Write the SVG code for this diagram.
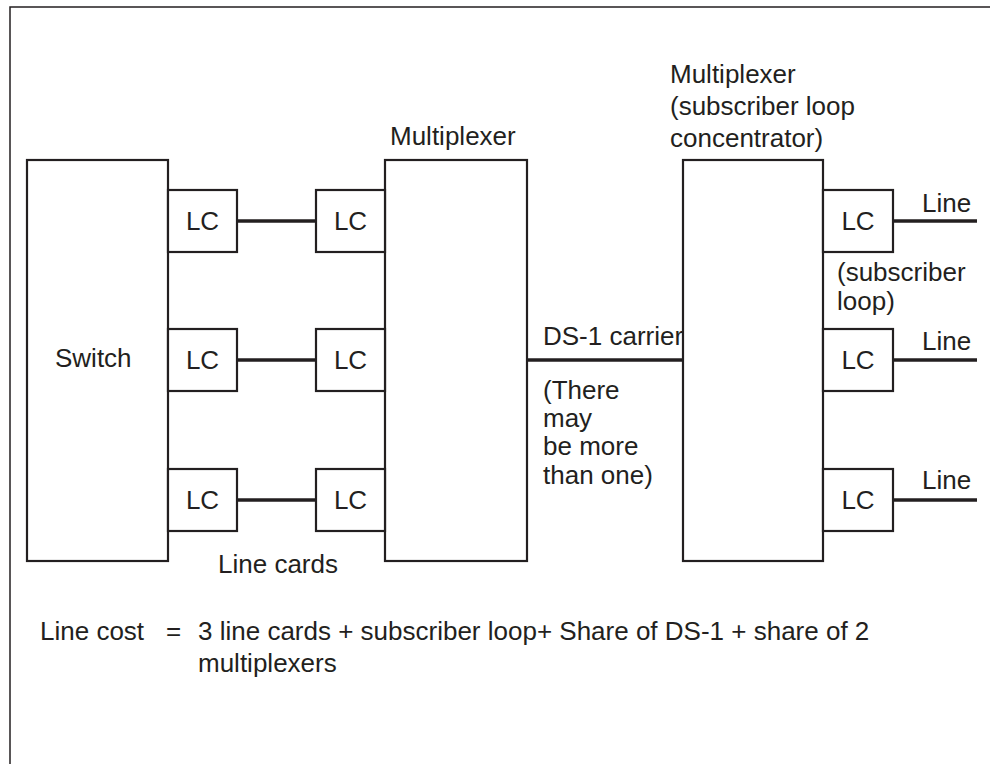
<svg xmlns="http://www.w3.org/2000/svg" width="990" height="764" viewBox="0 0 990 764">
<style>
.box{fill:#fff;stroke:#231f20;stroke-width:2.2}
.con{stroke:#231f20;stroke-width:3.5;fill:none}
.frame{stroke:#231f20;stroke-width:1.5;fill:none}
text{font-family:"Liberation Sans",Arial,sans-serif;font-size:26px;fill:#231f20}
.c{text-anchor:middle}
</style>
<rect width="990" height="764" fill="#fff"/>
<path class="frame" d="M10,764 V7 H990"/>
<g id="connectors">
<line class="con" x1="237" y1="221" x2="316" y2="221"/>
<line class="con" x1="237" y1="360" x2="316" y2="360"/>
<line class="con" x1="237" y1="500" x2="316" y2="500"/>
<line class="con" x1="527" y1="360" x2="683" y2="360"/>
<line class="con" x1="893" y1="221" x2="977" y2="221"/>
<line class="con" x1="893" y1="360" x2="977" y2="360"/>
<line class="con" x1="893" y1="500" x2="977" y2="500"/>
</g>
<g id="switch"><rect class="box" x="27" y="160" width="141" height="401"/><text x="55" y="367">Switch</text></g>
<g id="lc-s1"><rect class="box" x="168" y="190" width="69" height="62"/><text class="c" x="202.5" y="230">LC</text></g>
<g id="lc-s2"><rect class="box" x="168" y="329" width="69" height="62"/><text class="c" x="202.5" y="369">LC</text></g>
<g id="lc-s3"><rect class="box" x="168" y="469" width="69" height="62"/><text class="c" x="202.5" y="509">LC</text></g>
<g id="mux1"><rect class="box" x="385" y="160" width="142" height="401"/><text x="390" y="145">Multiplexer</text></g>
<g id="lc-m1"><rect class="box" x="316" y="190" width="69" height="62"/><text class="c" x="350.5" y="230">LC</text></g>
<g id="lc-m2"><rect class="box" x="316" y="329" width="69" height="62"/><text class="c" x="350.5" y="369">LC</text></g>
<g id="lc-m3"><rect class="box" x="316" y="469" width="69" height="62"/><text class="c" x="350.5" y="509">LC</text></g>
<g id="mux2"><rect class="box" x="683" y="160" width="140" height="401"/>
<text x="670" y="83">Multiplexer</text><text x="670" y="115">(subscriber loop</text><text x="670" y="147">concentrator)</text></g>
<g id="lc-r1"><rect class="box" x="823" y="190" width="70" height="62"/><text class="c" x="858" y="230">LC</text></g>
<g id="lc-r2"><rect class="box" x="823" y="329" width="70" height="62"/><text class="c" x="858" y="369">LC</text></g>
<g id="lc-r3"><rect class="box" x="823" y="469" width="70" height="62"/><text class="c" x="858" y="509">LC</text></g>
<g id="labels">
<text x="922" y="212">Line</text>
<text x="922" y="350">Line</text>
<text x="922" y="489">Line</text>
<text x="837" y="281">(subscriber</text>
<text x="837" y="310">loop)</text>
<text x="543" y="345">DS-1 carrier</text>
<text x="543" y="399">(There</text>
<text x="543" y="427">may</text>
<text x="543" y="455">be more</text>
<text x="543" y="484">than one)</text>
<text x="218" y="573">Line cards</text>
<text x="40" y="640">Line cost</text>
<text x="166" y="640">=</text>
<text x="198" y="640">3 line cards + subscriber loop+ Share of DS-1 + share of 2</text>
<text x="198" y="672">multiplexers</text>
</g>
</svg>
